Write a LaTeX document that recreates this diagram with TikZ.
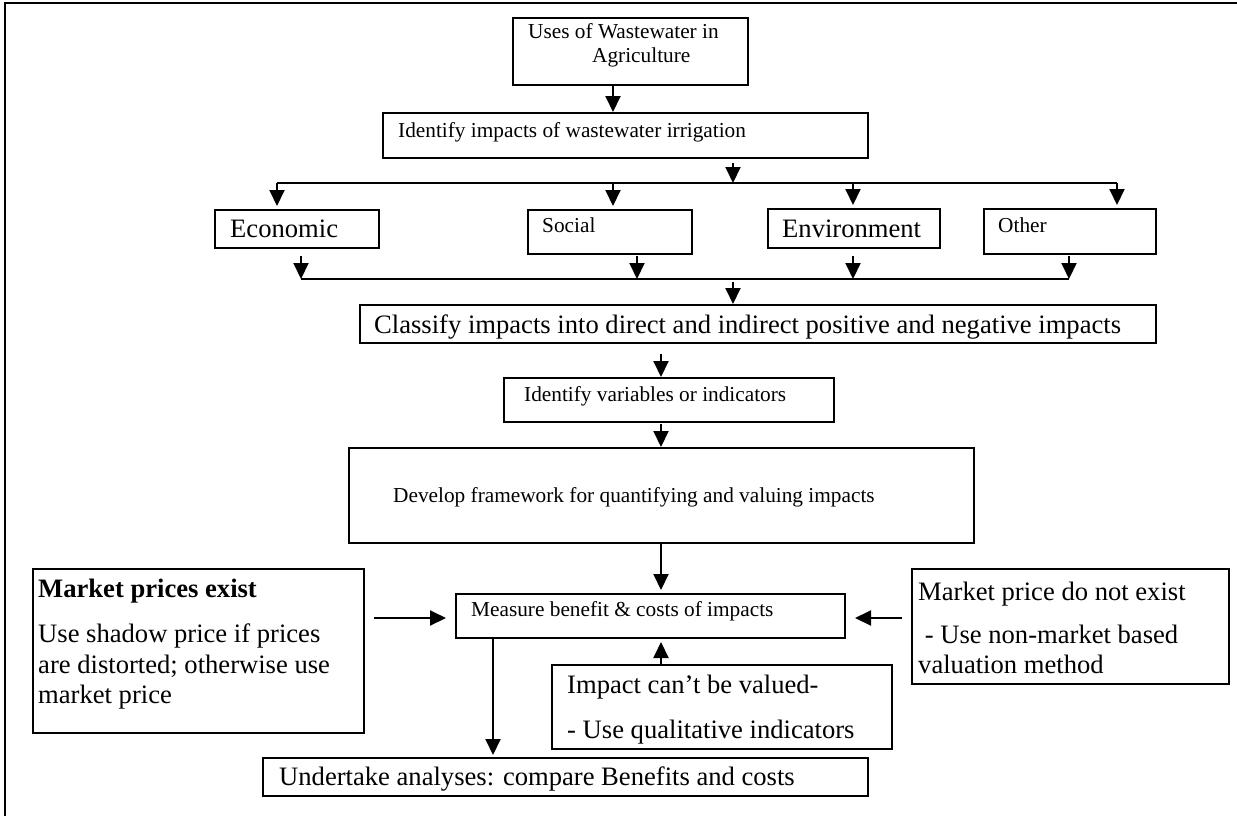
\documentclass[tikz,border=0pt]{standalone}
\usepackage{fontspec}
\setmainfont{Liberation Serif}
\usetikzlibrary{arrows.meta,calc}
\tikzset{
  box/.style={draw, line width=2pt, inner sep=0pt, anchor=north west},
  sm/.style={inner sep=0pt, anchor=base west, font=\fontsize{21.3}{25}\selectfont},
  lg/.style={inner sep=0pt, anchor=base west, font=\fontsize{26.6}{31}\selectfont},
  arr/.style={line width=2pt, -{Triangle[length=16pt,width=15pt]}},
  ln/.style={line width=2pt},
  frame/.style={line width=2.5pt},
}
\newcommand{\mybox}[5]{\node[box, minimum width={#4-#2}, minimum height={#5-#3}] (#1) at (#2,#3) {};}
\begin{document}
\begin{tikzpicture}[x=1pt,y=-1pt]
\useasboundingbox (0,0) rectangle (1237,816);
\draw[frame] (5,816) -- (5,3) -- (1237,3);

% boxes
\mybox{uses}{512}{17}{747}{84}
\mybox{ident}{382}{112}{867}{157}
\mybox{econ}{214}{209}{378}{247}
\mybox{social}{527}{209}{691}{253}
\mybox{env}{767}{208}{939}{247}
\mybox{other}{983}{208}{1155}{253}
\mybox{classify}{359}{304}{1155}{342}
\mybox{vars}{503}{377}{833}{421}
\mybox{develop}{348}{447}{973}{542}
\mybox{mkt}{32}{568}{363}{732}
\mybox{measure}{455}{593}{844}{637}
\mybox{impact}{551}{664}{891}{748}
\mybox{undertake}{262}{757}{867}{795}
\mybox{nonmkt}{911}{568}{1228}{683}

% texts
\node[sm] (usesA) at (528,39) {Uses of Wastewater in};
\node[sm] (usesB) at (592,63) {Agriculture};
\node[sm] (identT) at (398,137) {Identify impacts of wastewater irrigation};
\node[lg] (econT) at (230,237) {Economic};
\node[sm] (socialT) at (542,232) {Social};
\node[lg] (envT) at (782,237) {Environment};
\node[sm] (otherT) at (998,232) {Other};
\node[lg] (classT) at (374,333) {Classify impacts into direct and indirect positive and negative impacts};
\node[sm] (varsT) at (524,401) {Identify variables or indicators};
\node[sm] (devT) at (393,502) {Develop framework for quantifying and valuing impacts};
\node[lg, font=\fontsize{26.6}{31}\selectfont\bfseries] (mktA) at (38,597) {Market prices exist};
\node[lg] (mktB) at (38,642) {Use shadow price if prices};
\node[lg] (mktC) at (38,673) {are distorted; otherwise use};
\node[lg] (mktD) at (38,703) {market price};
\node[sm] (measT) at (471,616) {Measure benefit \& costs of impacts};
\node[lg] (impA) at (567,693) {Impact can’t be valued-};
\node[lg] (impB) at (567,738) {- Use qualitative indicators};
\node[lg] (undT) at (279,785) {Undertake analyses: compare Benefits and costs};
\node[lg] (nonA) at (918,600) {Market price do not exist};
\node[lg] (nonB) at (918,643) {\hspace*{0.25em}- Use non-market based};
\node[lg] (nonC) at (918,673) {valuation method};

% connector coordinates
\coordinate (bl) at (277,183);
\coordinate (bs) at (613,183);
\coordinate (bj) at (733,183);
\coordinate (be) at (853,183);
\coordinate (br) at (1117,183);
\coordinate (m1) at (301,279);
\coordinate (m2) at (637,279);
\coordinate (mj) at (733,279);
\coordinate (m3) at (853,279);
\coordinate (m4) at (1069,279);
\coordinate (cx) at (661,0);
\coordinate (dx) at (493,0);
\coordinate (hy) at (0,618);

% connectors
\draw[arr] (uses.south -| bs) -- (bs |- ident.north);
\draw[arr] ($(ident.south -| bj)+(0,4)$) -- (bj);
\draw[ln] (bl) -- (br);
\draw[arr, shorten >=3pt] (bl) -- (bl |- econ.north);
\draw[arr, shorten >=3pt] (bs) -- (bs |- social.north);
\draw[arr, shorten >=3pt] (be) -- (be |- env.north);
\draw[arr, shorten >=3pt] (br) -- (br |- other.north);

\draw[arr] ($(econ.south -| m1)+(0,7)$) -- (m1);
\draw[arr] ($(social.south -| m2)+(0,1)$) -- (m2);
\draw[arr] ($(env.south -| m3)+(0,7)$) -- (m3);
\draw[arr] ($(other.south -| m4)+(0,1)$) -- (m4);
\draw[ln] (m1) -- (m4);
\draw[arr] ($(mj)+(0,3)$) -- (mj |- classify.north);

\draw[arr] ($(classify.south -| cx)+(0,10)$) -- (cx |- vars.north);
\draw[arr] ($(vars.south -| cx)+(0,1)$) -- (cx |- develop.north);
\draw[arr, shorten >=3pt] (develop.south -| cx) -- (cx |- measure.north);
\draw[arr, shorten >=3pt] (impact.north -| cx) -- (cx |- measure.south);
\draw[arr, shorten >=9pt] ($(mkt.east |- hy)+(9,0)$) -- (measure.west |- hy);
\draw[arr, shorten >=9pt] ($(nonmkt.west |- hy)+(-9,0)$) -- (measure.east |- hy);
\draw[arr, shorten >=2pt] (measure.south -| dx) -- (dx |- undertake.north);
\end{tikzpicture}
\end{document}
